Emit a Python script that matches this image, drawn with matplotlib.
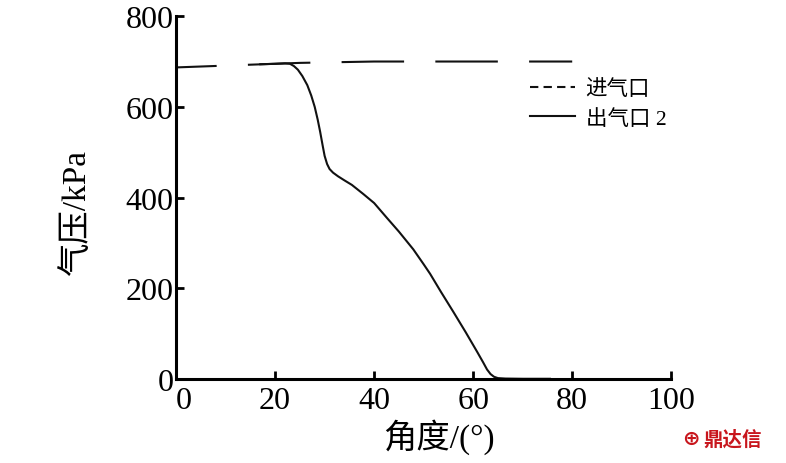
import matplotlib
matplotlib.use('Agg')
import matplotlib.pyplot as plt
from matplotlib.lines import Line2D

plt.rcParams['font.family'] = ['Liberation Serif', 'Noto Sans CJK SC']
plt.rcParams['axes.unicode_minus'] = False

# inlet pressure (dashed)
inlet_x = [0, 5, 10, 15, 20, 25, 30, 40, 50, 60, 70, 80]
inlet_y = [687, 689, 691, 693, 695, 697, 698, 700, 700, 700, 700, 700]

# outlet 2 pressure (solid)
outlet_x = [17, 20, 22.0, 23.0, 23.8, 24.6, 25.5, 26.5, 27.3, 28.0, 28.6, 29.1,
            29.6, 30.0, 30.5, 31.0, 31.7, 32.7, 34.0, 35.5, 37.8, 40.0, 42.6,
            45.0, 47.9, 50.0, 51.3, 53.5, 56, 58.5, 60.8, 62.0, 62.8, 63.5,
            64.2, 65.0, 66.5, 70, 75.5]
outlet_y = [694, 695, 696, 695, 690, 682, 668, 648, 625, 600, 572, 545,
            515, 492, 474, 463, 455, 447, 438, 428, 408, 388, 355,
            325, 286, 253, 232, 192, 148, 103, 60, 37, 21, 11,
            5, 2, 1, 0.5, 0.5]

labels = ['进气口', '出气口 2']

fig = plt.figure(figsize=(7.86, 4.64), dpi=100)
ax = fig.add_axes([0.224, 0.181, 0.63, 0.782])

ax.plot(inlet_x, inlet_y, color='#111111', lw=1.5, linestyle=(10.5, (30, 15)))
ax.plot(outlet_x, outlet_y, color='#111111', lw=1.5)

ax.set_xlim(0, 100)
ax.set_ylim(0, 800)
ax.set_xticks([0, 20, 40, 60, 80, 100])
ax.set_yticks([0, 200, 400, 600, 800])

for s in ['top', 'right']:
    ax.spines[s].set_visible(False)
for s in ['left', 'bottom']:
    ax.spines[s].set_linewidth(2.2)
ax.tick_params(direction='in', length=6, width=2, labelsize=23)
ax.tick_params(axis='x', pad=5)
ax.tick_params(axis='y', pad=2)
# first x label sits a little to the right of the corner
ax.get_xticklabels()[0].set_horizontalalignment('left')

ax.set_xlabel('角度/(°)', fontsize=24)
ax.xaxis.set_label_coords(0.53, -0.108)
ax.set_ylabel('气压/kPa', fontsize=24)
ax.yaxis.set_label_coords(-0.169, 0.46)

handles = [Line2D([], [], color='#111111', lw=1.5, dashes=(4, 2.5)),
           Line2D([], [], color='#111111', lw=1.5)]
ax.legend(handles, labels, loc='upper left', bbox_to_anchor=(0.675, 0.88),
          frameon=False, fontsize=15.5, handlelength=2.1, handletextpad=0.5,
          labelspacing=0.45)

fig.text(0.868, 0.04, '⊕', color='#c8161d', fontsize=15, fontweight='bold',
         family=['DejaVu Sans'])
fig.text(0.895, 0.04, '鼎达信', color='#c8161d', fontsize=14, fontweight='bold',
         family=['Noto Sans CJK SC'])

fig.savefig('out.png', dpi=100)
